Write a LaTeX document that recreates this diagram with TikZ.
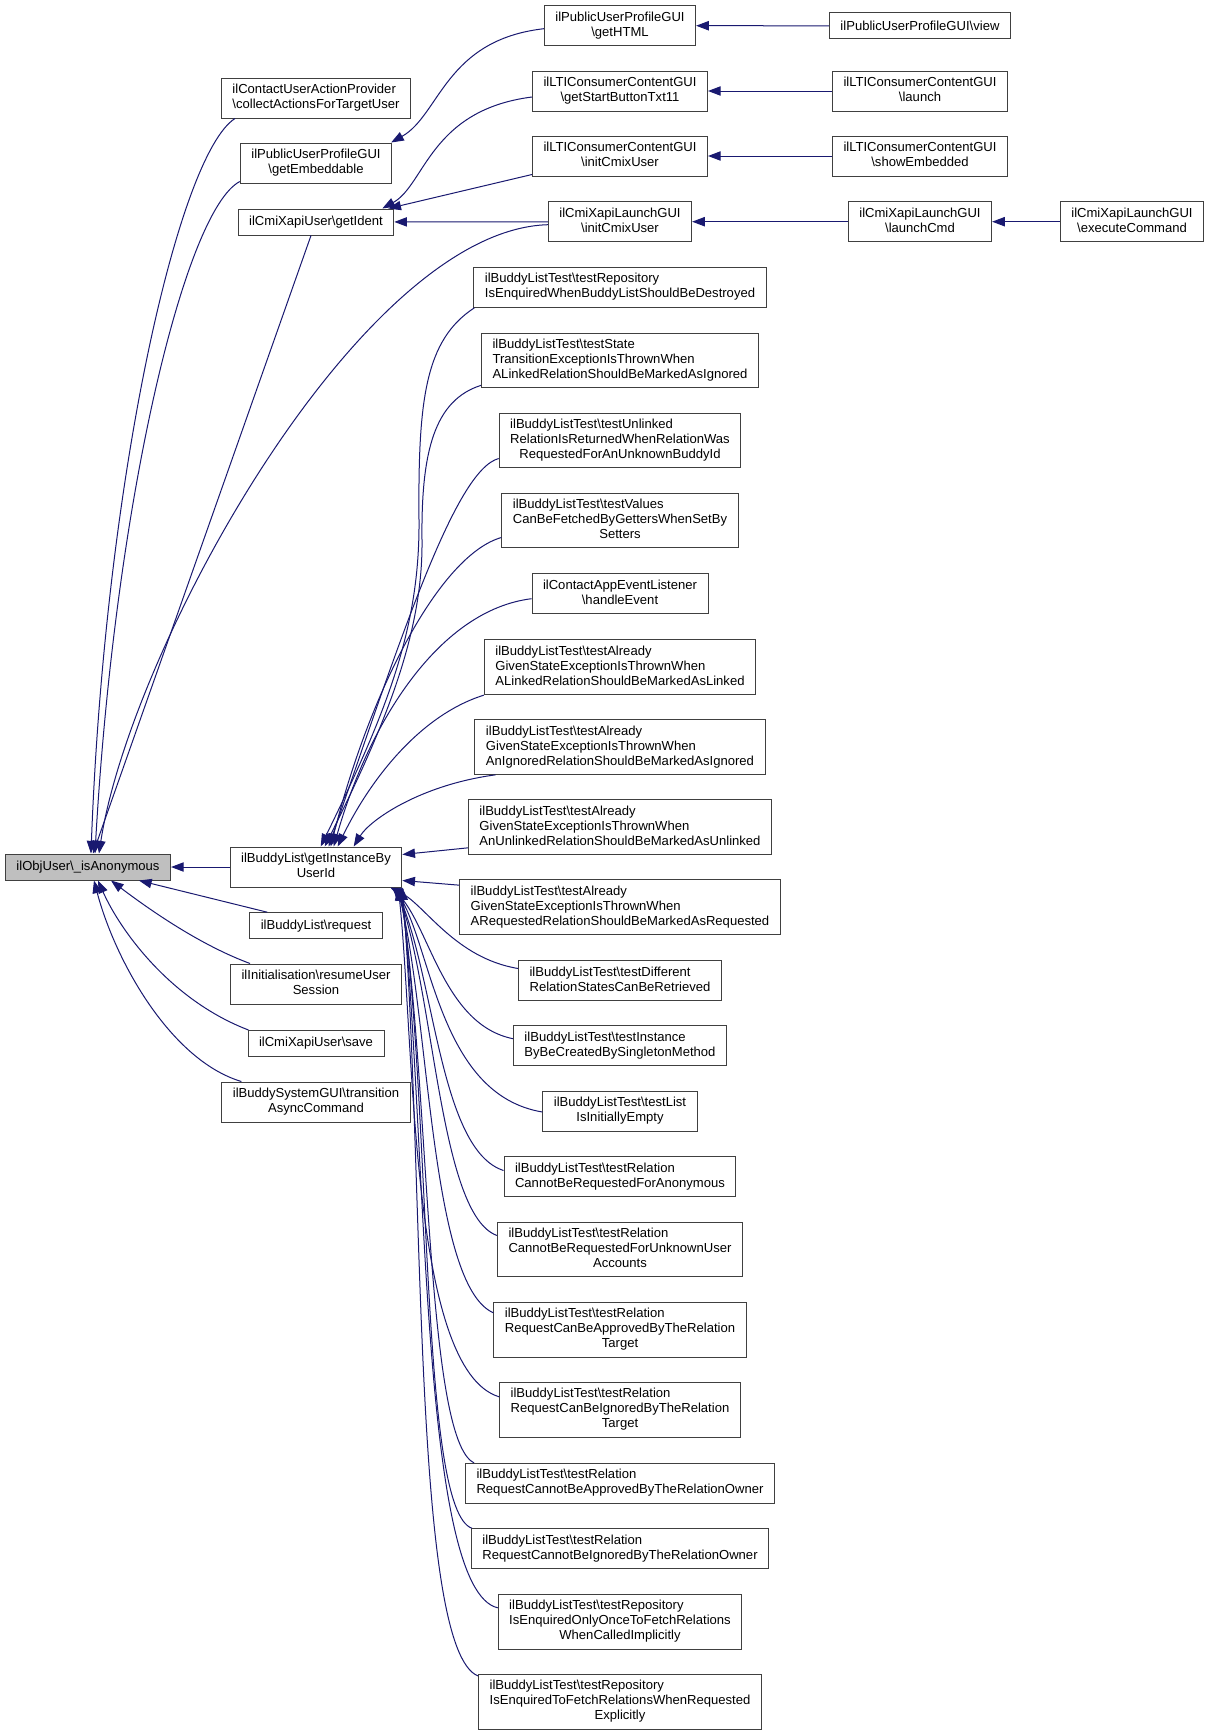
\documentclass[tikz,border=0pt]{standalone}
\usepackage{fontspec}
\setmainfont{Liberation Sans}
\usetikzlibrary{arrows.meta,calc}
\definecolor{callblue}{RGB}{25,25,112}
\newcommand{\bks}{\textbackslash}
\newcommand{\boxlines}[2]{\begin{tabular}{@{}l@{}}#1\\\multicolumn{1}{@{}c@{}}{#2}\end{tabular}}
\tikzset{
  fn/.style={draw=black!75, fill=white, line width=0.75pt, inner xsep=8.25pt, inner ysep=0pt,
    minimum height=19.5pt, font=\fontsize{9.8}{11.25}\selectfont},
  two/.style={minimum height=30pt},
  three/.style={minimum height=41pt},
  call/.style={draw=callblue, line width=0.75pt, arrows={Triangle[length=9.5pt,width=7pt]-}}
}
\begin{document}
\begin{tikzpicture}[x=0.75pt, y=-0.75pt]
    \fill[white] (0,0) rectangle (1209,1735);
    % callee
    \node[fn, fill=gray!50] (obj) at (88,867) {ilObjUser\bks\_isAnonymous};
    % direct callers
    \node[fn, two] (cuap) at (316,98) {\boxlines{ilContactUserActionProvider}{\bks collectActionsForTargetUser}};
    \node[fn, two] (embed) at (316,163) {\boxlines{ilPublicUserProfileGUI}{\bks getEmbeddable}};
    \node[fn] (ident) at (316,222) {ilCmiXapiUser\bks getIdent};
    \node[fn, two] (inst) at (316,867) {\boxlines{ilBuddyList\bks getInstanceBy}{UserId}};
    \node[fn] (request) at (316,925.7) {ilBuddyList\bks request};
    \node[fn, two] (resume) at (316,984) {\boxlines{ilInitialisation\bks resumeUser}{Session}};
    \node[fn] (save) at (316,1043.5) {ilCmiXapiUser\bks save};
    \node[fn, two] (trans) at (316,1102) {\boxlines{ilBuddySystemGUI\bks transition}{AsyncCommand}};
    % second level
    \node[fn, two] (html) at (620,25.7) {\boxlines{ilPublicUserProfileGUI}{\bks getHTML}};
    \node[fn, two] (gsb) at (620,91) {\boxlines{ilLTIConsumerContentGUI}{\bks getStartButtonTxt11}};
    \node[fn, two] (ltiinit) at (620,156) {\boxlines{ilLTIConsumerContentGUI}{\bks initCmixUser}};
    \node[fn, two] (cmiinit) at (620,221.7) {\boxlines{ilCmiXapiLaunchGUI}{\bks initCmixUser}};
    \node[fn, two] (repdestroy) at (620,287.3) {\boxlines{ilBuddyListTest\bks testRepository}{IsEnquiredWhenBuddyListShouldBeDestroyed}};
    \node[fn, three] (stateignored) at (620,360.5) {\boxlines{ilBuddyListTest\bks testState\\TransitionExceptionIsThrownWhen}{ALinkedRelationShouldBeMarkedAsIgnored}};
    \node[fn, three] (unlinked) at (620,440.5) {\boxlines{ilBuddyListTest\bks testUnlinked\\RelationIsReturnedWhenRelationWas}{RequestedForAnUnknownBuddyId}};
    \node[fn, three] (values) at (620,520.5) {\boxlines{ilBuddyListTest\bks testValues\\CanBeFetchedByGettersWhenSetBy}{Setters}};
    \node[fn, two] (handle) at (620,593.7) {\boxlines{ilContactAppEventListener}{\bks handleEvent}};
    \node[fn, three] (linked) at (620,667.3) {\boxlines{ilBuddyListTest\bks testAlready\\GivenStateExceptionIsThrownWhen}{ALinkedRelationShouldBeMarkedAsLinked}};
    \node[fn, three] (ignored) at (620,747) {\boxlines{ilBuddyListTest\bks testAlready\\GivenStateExceptionIsThrownWhen}{AnIgnoredRelationShouldBeMarkedAsIgnored}};
    \node[fn, three] (unlinkedto) at (620,827) {\boxlines{ilBuddyListTest\bks testAlready\\GivenStateExceptionIsThrownWhen}{AnUnlinkedRelationShouldBeMarkedAsUnlinked}};
    \node[fn, three] (requested) at (620,907) {\boxlines{ilBuddyListTest\bks testAlready\\GivenStateExceptionIsThrownWhen}{ARequestedRelationShouldBeMarkedAsRequested}};
    \node[fn, two] (different) at (620,980.5) {\boxlines{ilBuddyListTest\bks testDifferent}{RelationStatesCanBeRetrieved}};
    \node[fn, two] (instance) at (620,1045.7) {\boxlines{ilBuddyListTest\bks testInstance}{ByBeCreatedBySingletonMethod}};
    \node[fn, two] (listempty) at (620,1111) {\boxlines{ilBuddyListTest\bks testList}{IsInitiallyEmpty}};
    \node[fn, two] (anonymous) at (620,1176.5) {\boxlines{ilBuddyListTest\bks testRelation}{CannotBeRequestedForAnonymous}};
    \node[fn, three] (unknown) at (620,1249.5) {\boxlines{ilBuddyListTest\bks testRelation\\CannotBeRequestedForUnknownUser}{Accounts}};
    \node[fn, three] (approved) at (620,1329.8) {\boxlines{ilBuddyListTest\bks testRelation\\RequestCanBeApprovedByTheRelation}{Target}};
    \node[fn, three] (ignoredby) at (620,1409.8) {\boxlines{ilBuddyListTest\bks testRelation\\RequestCanBeIgnoredByTheRelation}{Target}};
    \node[fn, two] (notapproved) at (620,1483.3) {\boxlines{ilBuddyListTest\bks testRelation}{RequestCannotBeApprovedByTheRelationOwner}};
    \node[fn, two] (notignored) at (620,1548.7) {\boxlines{ilBuddyListTest\bks testRelation}{RequestCannotBeIgnoredByTheRelationOwner}};
    \node[fn, three] (once) at (620,1621.8) {\boxlines{ilBuddyListTest\bks testRepository\\IsEnquiredOnlyOnceToFetchRelations}{WhenCalledImplicitly}};
    \node[fn, three] (explicit) at (620,1701.8) {\boxlines{ilBuddyListTest\bks testRepository\\IsEnquiredToFetchRelationsWhenRequested}{Explicitly}};
    % third and fourth level
    \node[fn] (view) at (920,25.8) {ilPublicUserProfileGUI\bks view};
    \node[fn, two] (launch) at (920,91) {\boxlines{ilLTIConsumerContentGUI}{\bks launch}};
    \node[fn, two] (show) at (920,156) {\boxlines{ilLTIConsumerContentGUI}{\bks showEmbedded}};
    \node[fn, two] (lcmd) at (920,221.7) {\boxlines{ilCmiXapiLaunchGUI}{\bks launchCmd}};
    \node[fn, two] (exec) at (1132,221.7) {\boxlines{ilCmiXapiLaunchGUI}{\bks executeCommand}};

    % calls into ilObjUser
    \draw[call] ($(obj.north west)+(86,0)$) .. controls (105,480) and (178,155) .. ($(cuap.south west)+(14,0)$);
    \draw[call] ($(obj.north west)+(90,0)$) .. controls (115,500) and (185,210) .. ($(embed.south west)+(0,-2)$);
    \draw[call] ($(obj.north west)+(88,0)$) -- ($(ident.south)+(-5,0)$);
    \draw[call] ($(obj.north west)+(94,0)$) .. controls (130,650) and (360,230) .. ($(cmiinit.west)+(0,3)$);
    \draw[call] (obj) -- (inst);
    \draw[call] ($(obj.south west)+(134,0)$) -- ($(request.north west)+(18,0)$);
    \draw[call] ($(obj.south west)+(106,0)$) .. controls (150,910) and (200,945) .. ($(resume.north west)+(20,0)$);
    \draw[call] ($(obj.south west)+(93,0)$) .. controls (120,930) and (170,1000) .. ($(save.north west)+(1,0)$);
    \draw[call] ($(obj.south west)+(89,0)$) .. controls (115,960) and (170,1060) .. ($(trans.north west)+(20,0)$);
    % upper chains
    \draw[call] ($(embed.north east)+(-1,0)$) .. controls (440,115) and (445,40) .. ($(html.west)+(0,3)$);
    \draw[call] ($(ident.north east)+(-12,0)$) .. controls (425,185) and (430,110) .. ($(gsb.west)+(0,6)$);
    \draw[call] ($(ident.north east)+(-6,0)$) -- ($(ltiinit.south west)+(0,-2)$);
    \draw[call] (ident) -- (cmiinit);
    \draw[call] (html) -- (view);
    \draw[call] (gsb) -- (launch);
    \draw[call] (ltiinit) -- (show);
    \draw[call] (cmiinit) -- (lcmd);
    \draw[call] (lcmd) -- (exec);
    % tests into getInstanceByUserId
    \draw[call] ($(inst.north west)+(91,0)$) .. controls (385,715) and (420,630) .. (419,520)
        .. controls (418,400) and (425,340) .. ($(repdestroy.south west)+(1,0)$);
    \draw[call] ($(inst.north west)+(95,0)$) .. controls (388,720) and (423,630) .. (422,540)
        .. controls (421,450) and (435,400) .. ($(stateignored.south west)+(0,-3)$);
    \draw[call] ($(inst.north west)+(99,0)$) .. controls (400,640) and (455,470) .. ($(unlinked.west)+(0,18)$);
    \draw[call] ($(inst.north west)+(101,0)$) .. controls (370,690) and (440,555) .. ($(values.west)+(0,17)$);
    \draw[call] ($(inst.north west)+(104,0)$) .. controls (370,720) and (440,610) .. ($(handle.west)+(0,5)$);
    \draw[call] ($(inst.north west)+(108,0)$) .. controls (370,780) and (420,715) .. (linked.south west);
    \draw[call] ($(inst.north west)+(124,0)$) .. controls (370,820) and (420,785) .. ($(ignored.south west)+(21,0)$);
    \draw[call] ($(inst.north east)+(0,8)$) -- ($(unlinkedto.south west)+(0,-7)$);
    \draw[call] ($(inst.south east)+(0,-7)$) -- ($(requested.north west)+(0,6)$);
    \draw[call] ($(inst.south east)+(-12,0)$) .. controls (425,905) and (455,958) .. ($(different.west)+(0,-12)$);
    \draw[call] ($(inst.south east)+(-10,0)$) .. controls (430,930) and (445,1025) .. ($(instance.west)+(0,-7)$);
    \draw[call] ($(inst.south east)+(-8,0)$) .. controls (432,950) and (440,1095) .. ($(listempty.west)+(0,1)$);
    \draw[call] ($(inst.south east)+(-7,0)$) .. controls (435,980) and (440,1150) .. ($(anonymous.west)+(0,-6)$);
    \draw[call] ($(inst.south east)+(-6,0)$) .. controls (435,1000) and (440,1215) .. ($(unknown.west)+(0,-14)$);
    \draw[call] ($(inst.south east)+(-5,0)$) .. controls (430,1020) and (430,1285) .. ($(approved.west)+(0,-17)$);
    \draw[call] ($(inst.south east)+(-4,0)$) .. controls (415,1050) and (410,1370) .. ($(ignoredby.west)+(0,-13)$);
    \draw[call] ($(inst.south east)+(-3,0)$) .. controls (430,1080) and (425,1440) .. ($(notapproved.north west)+(9,0)$);
    \draw[call] ($(inst.south east)+(-2,0)$) .. controls (432,1120) and (420,1510) .. ($(notignored.north west)+(1,0)$);
    \draw[call] ($(inst.south east)+(-1,0)$) .. controls (428,1150) and (420,1590) .. ($(once.west)+(0,-14)$);
    \draw[call] (inst.south east) .. controls (425,1180) and (412,1650) .. ($(explicit.north west)+(0,2)$);
\end{tikzpicture}
\end{document}
